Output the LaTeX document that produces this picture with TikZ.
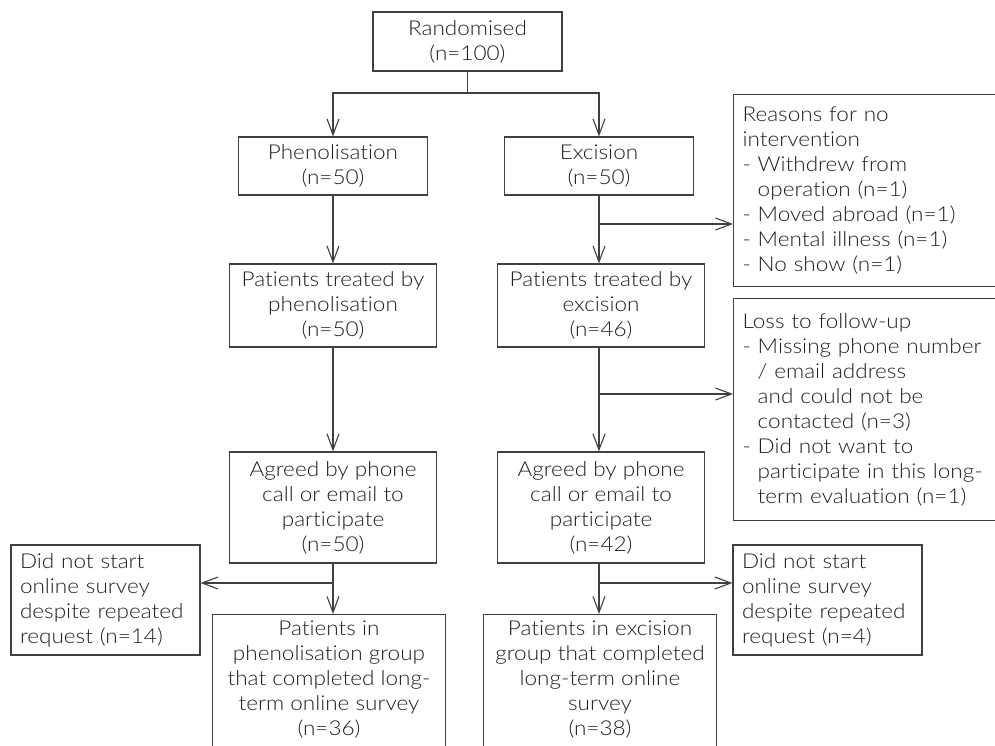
\documentclass[tikz,border=0pt]{standalone}
\usepackage{fontspec}
\setmainfont{Lato Light}[FakeStretch=1.1,Ligatures=NoCommon]
\usetikzlibrary{arrows.meta}
\definecolor{inkgray}{HTML}{1E1E1E}
\definecolor{framegray}{HTML}{404040}
\begin{document}
\begin{tikzpicture}[x=1pt,y=-1pt,
  every node/.style={text=inkgray,font=\fontsize{20.5}{25}\selectfont},
  midbox/.style={draw=framegray,line width=1.1pt,align=center,inner sep=0pt},
  sidebox/.style={draw=framegray,line width=1.1pt,align=left,inner xsep=9pt,inner ysep=0pt},
  arr/.style={draw=framegray,line width=1.1pt,-{Straight Barb[length=16pt,width=12pt]}},
  link/.style={draw=framegray,line width=1.1pt}]
  % Frame of the picture
  \path[use as bounding box,clip] (0,0) rectangle (995,746);

  % Draw the boxes of the two arms
  \node[midbox,minimum width=189pt,minimum height=59pt] (rand) at (467.5,41.5) {Randomised\\(n=100)};
  \node[midbox,minimum width=189pt,minimum height=58pt] (phen) at (333,166) {Phenolisation\\(n=50)};
  \node[midbox,minimum width=189pt,minimum height=58pt] (exc) at (599,166) {Excision\\(n=50)};
  \node[midbox,minimum width=207pt,minimum height=83pt] (treatP) at (333,305.5) {Patients treated by\\phenolisation\\(n=50)};
  \node[midbox,minimum width=207pt,minimum height=83pt] (treatE) at (601,305.5) {Patients treated by\\excision\\(n=46)};
  \node[midbox,minimum width=207pt,minimum height=111pt] (agreeP) at (333,507.5) {Agreed by phone\\call or email to\\participate\\(n=50)};
  \node[midbox,minimum width=207pt,minimum height=111pt] (agreeE) at (601,507.5) {Agreed by phone\\call or email to\\participate\\(n=42)};
  \node[midbox,anchor=north,minimum width=233pt,inner ysep=6pt,text depth=30pt] (doneP) at (329,614) {Patients in\\phenolisation group\\that completed long-\\term online survey\\(n=36)};
  \node[midbox,anchor=north,minimum width=233pt,inner ysep=6pt,text depth=30pt] (doneE) at (600,614) {Patients in excision\\group that completed\\long-term online\\survey\\(n=38)};

  % Draw the boxes of the drop-outs
  \node[sidebox,anchor=north west,text width=262pt,minimum height=192pt] (reason) at (733,94) {Reasons for no\\intervention\\- Withdrew from\\\hphantom{- }operation (n=1)\\- Moved abroad (n=1)\\- Mental illness (n=1)\\- No show (n=1)};
  \node[sidebox,anchor=north west,text width=262pt,minimum height=222pt] (loss) at (733,298) {Loss to follow-up\\- Missing phone number\\\hphantom{- }/ email address\\\hphantom{- }and could not be\\\hphantom{- }contacted (n=3)\\- Did not want to\\\hphantom{- }participate in this long-\\\hphantom{- }term evaluation (n=1)};
  \node[sidebox,text width=171pt,minimum height=110pt] (skipP) at (105.5,600) {Did not start\\online survey\\despite repeated\\request (n=14)};
  \node[sidebox,text width=171pt,minimum height=110pt] (skipE) at (827.5,600) {Did not start\\online survey\\despite repeated\\request (n=4)};

  % Draw the split after randomisation
  \coordinate (split) at (467.5,93);
  \draw[link] (rand) -- (split);
  \draw[arr] (split) -| (phen);
  \draw[arr] (split) -| (exc);

  % Draw the left arm
  \coordinate (leftP) at (333,583);
  \draw[arr] (phen) -- (treatP);
  \draw[arr] (treatP) -- (agreeP);
  \draw[arr] (agreeP) -- (agreeP |- doneP.north);
  \draw[arr] (leftP) -- (leftP -| skipP.east);

  % Draw the right arm
  \coordinate (outE1) at (599,224);
  \coordinate (outE2) at (599,394);
  \coordinate (outE3) at (599,583);
  \draw[arr] (exc) -- (exc |- treatE.north);
  \draw[arr] (outE1) -- (outE1 -| reason.west);
  \draw[arr] (exc |- treatE.south) -- (exc |- agreeE.north);
  \draw[arr] (outE2) -- (outE2 -| loss.west);
  \draw[arr] (exc |- agreeE.south) -- (exc |- doneE.north);
  \draw[arr] (outE3) -- (outE3 -| skipE.west);
\end{tikzpicture}
\end{document}
